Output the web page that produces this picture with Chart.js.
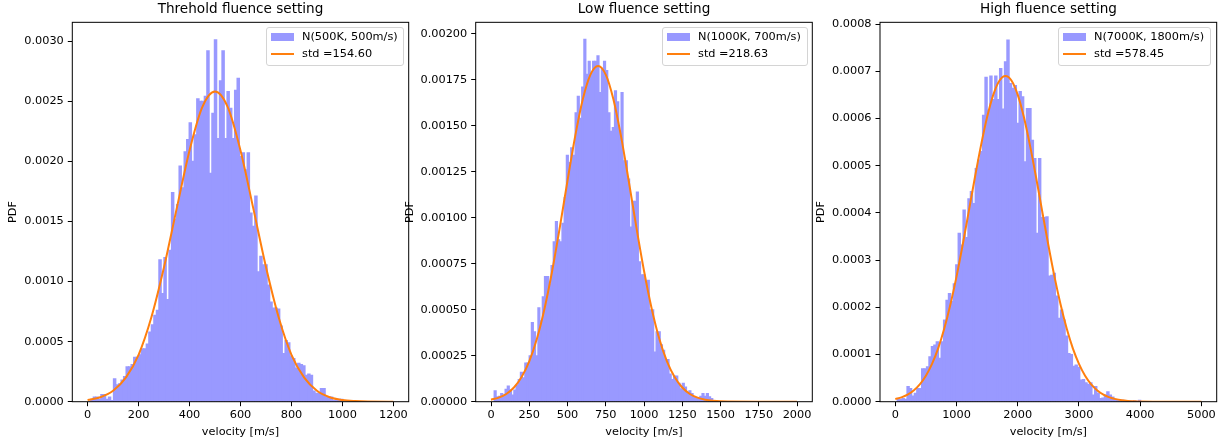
<!DOCTYPE html>
<html>
<head>
<meta charset="utf-8">
<script src="https://cdn.jsdelivr.net/npm/chart.js@4.4.0/dist/chart.umd.min.js"></script>
<style>
  body { margin: 0; width: 1225px; height: 443px; overflow: hidden; background: #fff; position: relative; font-family: "DejaVu Sans", sans-serif; }
  canvas { position: absolute; top: 0; }
  .legend { position: absolute; top: 27px; height: 37px; border: 1px solid #d4d4d4; border-radius: 3px; background: rgba(255,255,255,0.8); font-size: 11.3px; color: #000; }
  .legend .patch { position: absolute; left: 4px; top: 5px; width: 23px; height: 8px; background: #9999ff; }
  .legend .line { position: absolute; left: 4px; top: 25px; width: 23px; height: 2px; background: #ff7f0e; }
  .legend .t1, .legend .t2 { position: absolute; left: 35px; line-height: 14px; white-space: nowrap; }
  .legend .t1 { top: 2px; }
  .legend .t2 { top: 19px; }
</style>
</head>
<body>
<canvas id="c1" width="481" height="443" style="left:0px"></canvas>
<canvas id="c2" width="494" height="443" style="left:397px"></canvas>
<canvas id="c3" width="481" height="443" style="left:808px"></canvas>

<div class="legend" style="left:266px;width:136px"><div class="patch"></div><div class="t1">N(500K, 500m/s)</div><div class="line"></div><div class="t2">std =154.60</div></div>
<div class="legend" style="left:662px;width:144px"><div class="patch"></div><div class="t1">N(1000K, 700m/s)</div><div class="line"></div><div class="t2">std =218.63</div></div>
<div class="legend" style="left:1058px;width:151px"><div class="patch"></div><div class="t1">N(7000K, 1800m/s)</div><div class="line"></div><div class="t2">std =578.45</div></div>

<script>
// ---- threshold fluence ----
const p1BinStart = 12;
const p1BinWidth = 9.9;
const p1Density = [
  0.00002, 0.00004, 0.00004, 0.00002, 0.00006, 0.00006, 0.00002, 0.00004, 0.00001, 0.00019,
  0.00014, 0.00015, 0.00018, 0.00021, 0.00029, 0.00029, 0.00031, 0.00037, 0.00037, 0.00039,
  0.00044, 0.00044, 0.00048, 0.00058, 0.00064, 0.00072, 0.00076, 0.00118, 0.00090, 0.00120,
  0.00085, 0.00126, 0.00174, 0.00152, 0.00164, 0.00196, 0.00178, 0.00208, 0.00218, 0.00232,
  0.00200, 0.00222, 0.00252, 0.00250, 0.00250, 0.00254, 0.00292, 0.00190, 0.00240, 0.00301,
  0.00219, 0.00267, 0.00292, 0.00219, 0.00258, 0.00244, 0.00219, 0.00259, 0.00269, 0.00204,
  0.00207, 0.00193, 0.00207, 0.00157, 0.00146, 0.00171, 0.00108, 0.00121, 0.00114, 0.00114,
  0.00097, 0.00083, 0.00078, 0.00078, 0.00077, 0.00063, 0.00040, 0.00051, 0.00049, 0.00038,
  0.00036, 0.00028, 0.00032, 0.00031, 0.00030, 0.00022, 0.00023, 0.00022, 0.00009, 0.00007,
  0.00007, 0.00011, 0.00011, 0.00004, 0.00004, 0.00004, 0.00001, 0.00002, 0.00002, 0.00002
];
const p1CurveX = [0, 50, 100, 150, 200, 250, 300, 350, 400, 450, 500, 550, 600, 650, 700, 750, 800, 850, 900, 950, 1000, 1050, 1100, 1200];
const p1CurveY = [0.000014, 0.000037, 0.000091, 0.0002, 0.00039, 0.0007, 0.00112, 0.00161, 0.00209, 0.00245, 0.00258, 0.00245,
  0.00209, 0.00161, 0.00112, 0.0007, 0.00039, 0.0002, 0.000091, 0.000037, 0.000014, 0.000005, 0.000001, 0];
const p1XTicks = [0, 200, 400, 600, 800, 1000, 1200];
const p1YTicks = [0, 0.0005, 0.001, 0.0015, 0.002, 0.0025, 0.003];
const p1YLabels = ["0.0000", "0.0005", "0.0010", "0.0015", "0.0020", "0.0025", "0.0030"];

// ---- low fluence ----
const p2BinStart = 20;
const p2BinWidth = 14.3;
const p2Density = [
  0.00006, 0.000027, 0.00003, 0.000045, 0.000036, 0.000067, 0.000085, 0.000063, 0.000036, 0.000063,
  0.00009, 0.00012, 0.00016, 0.00013, 0.00021, 0.00021, 0.00025, 0.00043, 0.00038, 0.00025,
  0.00051, 0.00044, 0.00057, 0.00068, 0.00068, 0.00064, 0.00074, 0.00087, 0.00098, 0.00088,
  0.00087, 0.00097, 0.00111, 0.00134, 0.0013, 0.00138, 0.00134, 0.00157, 0.00166, 0.00154,
  0.00171, 0.00197, 0.00178, 0.00185, 0.00179, 0.00185, 0.00185, 0.00188, 0.00168, 0.00181,
  0.00185, 0.0018, 0.00157, 0.00147, 0.00149, 0.00169, 0.00163, 0.00147, 0.00168, 0.00131,
  0.00131, 0.00121, 0.00095, 0.00109, 0.00109, 0.00114, 0.00076, 0.00069, 0.00069, 0.00065,
  0.00066, 0.0005, 0.0005, 0.00027, 0.00038, 0.00038, 0.00031, 0.00028, 0.00023, 0.00023,
  0.00015, 0.00012, 0.00014, 0.00014, 0.0001, 0.00007, 0.0001, 0.00008, 0.00005, 0.00006,
  0.000045, 0.000027, 0.000018, 0.000018, 0.00003, 0.000045, 0.00003, 0.000045, 0.000027, 0.000018
];
const p2CurveX = [0, 50, 100, 150, 200, 250, 300, 350, 400, 450, 500, 550, 600, 650, 700, 750, 800, 850, 900, 950,
  1000, 1050, 1100, 1150, 1200, 1250, 1300, 1350, 1400, 1450, 1500, 1750, 2000];
const p2CurveY = [0.000011, 0.000022, 0.000042, 0.000077, 0.000134, 0.000219, 0.000342, 0.000507, 0.000712, 0.000949,
  0.001201, 0.001442, 0.001644, 0.001778, 0.001825, 0.001778, 0.001644, 0.001442, 0.001201, 0.000949,
  0.000712, 0.000507, 0.000342, 0.000219, 0.000134, 0.000077, 0.000042, 0.000022, 0.000011, 0.000005, 0.000002, 0, 0];
const p2XTicks = [0, 250, 500, 750, 1000, 1250, 1500, 1750, 2000];
const p2YTicks = [0, 0.00025, 0.0005, 0.00075, 0.001, 0.00125, 0.0015, 0.00175, 0.002];
const p2YLabels = ["0.00000", "0.00025", "0.00050", "0.00075", "0.00100", "0.00125", "0.00150", "0.00175", "0.00200"];

// ---- high fluence ----
const p3BinStart = 30;
const p3BinWidth = 39.8;
const p3Density = [
  0.000005, 0.000005, 0.000007, 0.000005, 0.000032, 0.000028, 0.000012, 0.000018, 0.000028, 0.000028,
  0.00007, 0.00007, 0.000074, 0.000095, 0.000117, 0.00012, 0.000127, 0.000092, 0.000127, 0.000173,
  0.000215, 0.000229, 0.000212, 0.00025, 0.00029, 0.000357, 0.000332, 0.000406, 0.000348, 0.00043,
  0.000445, 0.00042, 0.000494, 0.000512, 0.00053, 0.000607, 0.000687, 0.000618, 0.00069, 0.00064,
  0.00069, 0.00064, 0.000706, 0.00062, 0.00072, 0.000766, 0.000674, 0.000664, 0.00067, 0.00059,
  0.000657, 0.000646, 0.000508, 0.000621, 0.000621, 0.000554, 0.000515, 0.000357, 0.000515, 0.00039,
  0.00039, 0.000392, 0.000266, 0.000268, 0.000272, 0.000224, 0.000177, 0.000194, 0.000173, 0.000139,
  0.000102, 0.0001, 0.000075, 0.000078, 0.000073, 0.000046, 0.000047, 0.00004, 0.000037, 0.00004,
  0.000014, 0.000032, 0.000018, 0.000007, 0.000008, 0.000014, 0.000021, 0.000014, 0.00001, 0.000005,
  0.000004, 0.000003, 0.000003, 0.000002, 0.000002, 0.000002, 0.000001, 0.000002, 0.000001, 0.000003
];
const p3CurveX = [0, 100, 200, 300, 400, 500, 600, 700, 800, 900, 1000, 1100, 1200, 1300, 1400, 1500, 1600, 1700, 1800, 1900,
  2000, 2100, 2200, 2300, 2400, 2500, 2600, 2700, 2800, 2900, 3000, 3100, 3200, 3300, 3400, 3500, 3600, 3700, 3800, 3900,
  4000, 4500, 5000];
const p3CurveY = [0.0000055, 0.0000092, 0.000015, 0.0000239, 0.0000369, 0.0000552, 0.0000803, 0.000113, 0.000155, 0.000206,
  0.000265, 0.000332, 0.000403, 0.000475, 0.000543, 0.000603, 0.00065, 0.00068, 0.00069, 0.00068,
  0.00065, 0.000603, 0.000543, 0.000475, 0.000403, 0.000332, 0.000265, 0.000206, 0.000155, 0.000113,
  0.0000803, 0.0000552, 0.0000369, 0.0000239, 0.000015, 0.0000092, 0.0000055, 0.0000031, 0.0000017, 0.0000009,
  0.0000004, 0, 0];
const p3XTicks = [0, 1000, 2000, 3000, 4000, 5000];
const p3YTicks = [0, 0.0001, 0.0002, 0.0003, 0.0004, 0.0005, 0.0006, 0.0007, 0.0008];
const p3YLabels = ["0.0000", "0.0001", "0.0002", "0.0003", "0.0004", "0.0005", "0.0006", "0.0007", "0.0008"];

Chart.defaults.font.family = "DejaVu Sans";
Chart.defaults.font.size = 11.3;
Chart.defaults.color = "#000";
Chart.defaults.animation = false;

// matplotlib draws a box on all four sides
const frame = {
  id: "frame",
  afterDatasetsDraw(chart) {
    const a = chart.chartArea;
    const ctx = chart.ctx;
    ctx.save();
    ctx.strokeStyle = "#000";
    ctx.lineWidth = 1;
    ctx.strokeRect(a.left, a.top, a.right - a.left, a.bottom - a.top);
    ctx.restore();
  }
};

function histPanel(id, p) {
  const bars = p.density.map((d, i) => ({ x: p.binStart + p.binWidth * (i + 0.5), y: d }));
  const curve = p.curveX.map((x, i) => ({ x: x, y: p.curveY[i] }));

  new Chart(document.getElementById(id), {
    type: "bar",
    data: {
      datasets: [
        {
          type: "line",
          data: curve,
          borderColor: "#ff7f0e",
          borderWidth: 2,
          pointRadius: 0,
          cubicInterpolationMode: "monotone",
          order: 0
        },
        {
          data: bars,
          backgroundColor: "#9999ff",
          borderWidth: 0,
          barPercentage: 1,
          categoryPercentage: 1,
          inflateAmount: 0.5,
          order: 1
        }
      ]
    },
    options: {
      responsive: false,
      layout: { padding: 0 },
      plugins: {
        legend: { display: false },
        tooltip: { enabled: false },
        title: {
          display: true,
          text: p.title,
          font: { size: 13.6, weight: "normal" },
          padding: { top: 1, bottom: 5 }
        }
      },
      scales: {
        x: {
          type: "linear",
          offset: false,
          min: p.xMin,
          max: p.xMax,
          afterBuildTicks: (s) => { s.ticks = p.xTicks.map((v) => ({ value: v })); },
          afterFit: (s) => { s.height = 41.3; },
          ticks: { maxRotation: 0, autoSkip: false, padding: 2, callback: (v) => String(v) },
          grid: { offset: false, drawOnChartArea: false, tickLength: 4.5, color: "#000" },
          border: { display: false },
          title: { display: true, text: "velocity [m/s]", padding: { top: 0, bottom: 4.2 } }
        },
        y: {
          min: 0,
          max: p.yMax,
          afterBuildTicks: (s) => { s.ticks = p.yTicks.map((v) => ({ value: v })); },
          afterFit: (s) => { s.width = p.yWidth; },
          ticks: { padding: 4, callback: (v, i) => p.yLabels[i] },
          grid: { drawOnChartArea: false, tickLength: 4.5, color: "#000" },
          border: { display: false },
          title: { display: true, text: "PDF", padding: { top: 6.5, bottom: 0 } }
        },
        yr: {
          position: "right",
          ticks: { display: false },
          grid: { display: false },
          border: { display: false },
          afterFit: (s) => { s.width = p.rightWidth; }
        }
      }
    },
    plugins: [frame]
  });
}

histPanel("c1", {
  title: "Threhold fluence setting",
  binStart: p1BinStart, binWidth: p1BinWidth, density: p1Density,
  curveX: p1CurveX, curveY: p1CurveY,
  xTicks: p1XTicks, yTicks: p1YTicks, yLabels: p1YLabels,
  xMin: -60, xMax: 1260, yMax: 0.0031555,
  yWidth: 72.3, rightWidth: 72.3
});

histPanel("c2", {
  title: "Low fluence setting",
  binStart: p2BinStart, binWidth: p2BinWidth, density: p2Density,
  curveX: p2CurveX, curveY: p2CurveY,
  xTicks: p2XTicks, yTicks: p2YTicks, yLabels: p2YLabels,
  xMin: -100, xMax: 2100, yMax: 0.002062,
  yWidth: 78.7, rightWidth: 78.7
});

histPanel("c3", {
  title: "High fluence setting",
  binStart: p3BinStart, binWidth: p3BinWidth, density: p3Density,
  curveX: p3CurveX, curveY: p3CurveY,
  xTicks: p3XTicks, yTicks: p3YTicks, yLabels: p3YLabels,
  xMin: -250, xMax: 5250, yMax: 0.0008036,
  yWidth: 72, rightWidth: 72.3
});
</script>
</body>
</html>
